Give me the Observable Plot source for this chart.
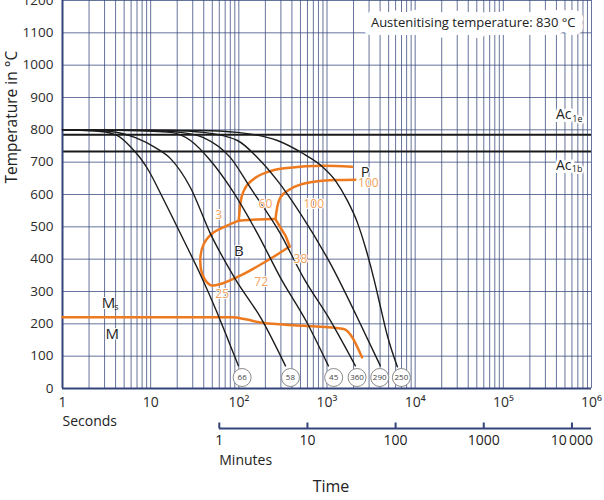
<!DOCTYPE html>
<html><head><meta charset="utf-8">
<script src="https://cdn.jsdelivr.net/npm/d3@7"></script>
<script src="https://cdn.jsdelivr.net/npm/@observablehq/plot@0.6"></script>
<style>body{margin:0;background:#fff}</style>
</head><body><div id="chart"></div>
<script>
// ---- cooling curves: [time in s, temperature in °C]
const curve66  = [[1,800],[2.7,795],[4.2,782],[5.9,748],[7.66,712],[9.44,675],[12.9,604],[17.7,529],[22.9,467],[36.7,352],[55.7,240],[76.2,148],[98.9,70]];
const curve58  = [[1,800],[3.5,795],[6.72,776],[11.3,745],[16.8,711],[28.3,621],[47.6,479],[89.1,343],[185,210],[338,70]];
const curve45  = [[1,800],[5.9,798],[16.8,792],[28.3,767],[47.6,705],[80.3,621],[163,479],[296,343],[600,201],[1037,70]];
const curve360 = [[1,800],[9.95,798],[21.8,792],[39.7,776],[80.3,714],[135,621],[296,479],[540,343],[1093,210],[2100,70]];
const curve290 = [[1,800],[16.8,798],[39.7,792],[96.4,767],[163,714],[274,643],[500,541],[1093,386],[2213,219],[4030,70]];
const curve250 = [[1,800],[36.7,798],[96.4,792],[274,767],[540,726],[887,686],[1245,643],[1703,581],[2213,513],[2798,426],[3447,333],[4140,240],[4842,163],[6283,67]];
const coolingCurves = [curve66, curve58, curve45, curve360, curve290, curve250];

// ---- hardness labels at the end of each curve
const hardness     = ["66","58","45","360","290","250"];
const hardnessTime = [109, 385, 1191, 2193, 3963, 6979];
const hardnessTemp = 34;

// ---- transformation lines
const pearliteStart  = [[99.8,519],[104,572],[114,612],[147.5,648],[209,669],[353,682],[918,689],[1926,686]];
const pearliteFinish = [[260,524],[272,560],[296,591],[385,617],[649,638],[1301,645],[2100,646]];
const pbBoundary     = [[99.8,519],[165,523],[260,524]];
const bainiteStart   = [[99.8,519],[73.7,504],[51.9,483],[40.0,447],[36.7,406],[38.4,354],[47.6,320],[61.8,323],[104,349],[209,395],[378,439]];
const bainiteFinish  = [[378,439],[338,473],[296,498],[260,524]];
const msLine         = [[1,220],[84.6,220],[119,214],[176,204],[544,194],[1546,184],[2500,96]];

// ---- in-chart labels
const phaseNumbers = [
  {text:"3",   t:59.2, T:537},
  {text:"60",  t:200,  T:569},
  {text:"100", t:707,  T:571},
  {text:"100", t:2946, T:634},
  {text:"25",  t:64.7, T:292},
  {text:"72",  t:179,  T:328},
  {text:"38",  t:500,  T:401}
];
const phaseLetters = [{text:"P", t:2725, T:669},{text:"B", t:99.8, T:426},{text:"M", t:3.66, T:168}];
const msLabel = {t:3.32, T:263};
const ac1e = 785, ac1b = 733;

// ---- axes
const xTicks = [1,10,100,1000,10000,100000,1000000];
const yTicks = [0,100,200,300,400,500,600,700,800,900,1000,1100,1200];
const minuteTicks = [1,10,100,1000,10000];
const minuteLabels = ["1","10","100","1000","10\u2009000"];
const xGrid = [];
for (let k = 0; k < 6; k++) for (let m = 1; m <= 9; m++) xGrid.push(m * 10 ** k);
xGrid.push(1e6);

const sup = {2:"²",3:"³",4:"⁴",5:"⁵",6:"⁶"};
const fmtX = d => d === 1 ? "1" : d === 10 ? "10" : "10" + sup[Math.round(Math.log10(d))];

const toRows = (arr, id) => arr.map(([t, T]) => ({t, T, id}));
const coolRows = coolingCurves.flatMap((c, i) => toRows(c, i));
const circles = hardness.map((h, i) => ({h, t: hardnessTime[i], T: hardnessTemp}));

const NAVY = "#34457a";
const ORANGE = "#ee7a1f";
const LORANGE = "#f2a25a";
const FONT = "Open Sans";

const plot = Plot.plot({
  width: 604, height: 500,
  marginLeft: 62, marginRight: 13, marginTop: 0, marginBottom: 112,
  style: {fontFamily: FONT, color: "#2b2b2b", background: "#fff"},
  x: {type: "log", domain: [1, 1e6]},
  y: {domain: [0, 1200]},
  marks: [
    Plot.ruleX(xGrid, {stroke: NAVY, strokeWidth: 1, strokeOpacity: 0.75}),
    Plot.ruleY(yTicks, {stroke: NAVY, strokeWidth: 1, strokeOpacity: 0.75}),
    Plot.ruleY([ac1e, ac1b], {stroke: "#1a1a1a", strokeWidth: 2}),
    Plot.ruleX([1], {stroke: NAVY, strokeWidth: 2}),
    Plot.ruleY([0], {stroke: NAVY, strokeWidth: 2}),
    // orange transformation lines
    Plot.line(toRows(pearliteStart, 0), {x: "t", y: "T", stroke: ORANGE, strokeWidth: 2.5, curve: "monotone-x"}),
    Plot.line(toRows(pearliteFinish, 0), {x: "t", y: "T", stroke: ORANGE, strokeWidth: 2.5, curve: "monotone-x"}),
    Plot.line(toRows(pbBoundary, 0), {x: "t", y: "T", stroke: ORANGE, strokeWidth: 2.5, curve: "monotone-x"}),
    Plot.line(toRows(bainiteStart, 0), {x: "t", y: "T", stroke: ORANGE, strokeWidth: 2.5, curve: "catmull-rom"}),
    Plot.line(toRows(bainiteFinish, 0), {x: "t", y: "T", stroke: ORANGE, strokeWidth: 2.5, curve: "linear"}),
    Plot.line(toRows(msLine, 0), {x: "t", y: "T", stroke: ORANGE, strokeWidth: 2.5, curve: "monotone-x"}),
    // cooling curves
    Plot.line(coolRows, {x: "t", y: "T", z: "id", stroke: "#1c1c1c", strokeWidth: 1.4, curve: "monotone-x"}),
    // hardness circles
    Plot.dot(circles, {x: "t", y: "T", r: 9, fill: "white", stroke: "#8a8a8a", strokeWidth: 1}),
    Plot.text(circles, {x: "t", y: "T", text: "h", fontSize: 8, fill: "#444"}),
    // labels
    Plot.text(phaseNumbers, {x: "t", y: "T", text: "text", fill: LORANGE, fontSize: 12, stroke: "white", strokeWidth: 2}),
    Plot.text(phaseLetters, {x: "t", y: "T", text: "text", fill: "#222", fontSize: 15, stroke: "white", strokeWidth: 2}),
    Plot.text([msLabel], {x: "t", y: "T", text: () => "M", fill: "#222", fontSize: 15, stroke: "white", strokeWidth: 2}),
    Plot.text([msLabel], {x: "t", y: "T", text: () => "s", fill: "#222", fontSize: 9, dx: 8, dy: 4}),
    Plot.text([ac1e], {y: d => d, frameAnchor: "right", textAnchor: "end", text: () => "Ac", dx: -20, dy: -20, fontSize: 14, fill: "#222", stroke: "white", strokeWidth: 6}),
    Plot.text([ac1e], {y: d => d, frameAnchor: "right", textAnchor: "end", text: () => "1e", dx: -9, dy: -16, fontSize: 9, fill: "#222", stroke: "white", strokeWidth: 4}),
    Plot.text([ac1b], {y: d => d, frameAnchor: "right", textAnchor: "end", text: () => "Ac", dx: -20, dy: 14, fontSize: 14, fill: "#222", stroke: "white", strokeWidth: 6}),
    Plot.text([ac1b], {y: d => d, frameAnchor: "right", textAnchor: "end", text: () => "1b", dx: -9, dy: 18, fontSize: 9, fill: "#222", stroke: "white", strokeWidth: 4}),
    Plot.text(["Austenitising temperature: 830 °C"], {frameAnchor: "top-right", textAnchor: "end", dx: -16, dy: 17, fontSize: 13, fill: "#222", stroke: "white", strokeWidth: 16, strokeLinejoin: "round"}),
    // axes
    Plot.axisY({ticks: yTicks, tickFormat: d => String(d), tickSize: 0, tickPadding: 9, fontSize: 13.5, label: null}),
    Plot.axisX({ticks: xTicks, tickFormat: fmtX, tickSize: 0, tickPadding: 9, fontSize: 14, label: null}),
    Plot.text(["Temperature in °C"], {frameAnchor: "left", rotate: -90, dx: -50, dy: -11, fontSize: 15.5, fill: "#222"}),
    Plot.text(["Seconds"], {frameAnchor: "bottom-left", textAnchor: "start", dy: 37, fontSize: 14, fill: "#222"}),
    // minutes axis
    Plot.ruleY([0], {x1: () => 60, x2: () => 1e6, dy: 40, stroke: NAVY, strokeWidth: 2}),
    Plot.ruleX(minuteTicks, {x: m => m * 60, y1: () => 0, y2: () => 17, dy: 40, stroke: NAVY, strokeWidth: 2}),
    Plot.text(minuteTicks, {x: m => m * 60, frameAnchor: "bottom", dy: 56, text: (m, i) => minuteLabels[i], fontSize: 14, fill: "#222"}),
    Plot.text(["Minutes"], {x: () => 60, frameAnchor: "bottom", textAnchor: "start", dy: 76, fontSize: 14, fill: "#222"}),
    Plot.text(["Time"], {frameAnchor: "bottom", dx: 4, dy: 103, fontSize: 16, fill: "#222"})
  ]
});
document.getElementById("chart").append(plot);
</script>
</body></html>
